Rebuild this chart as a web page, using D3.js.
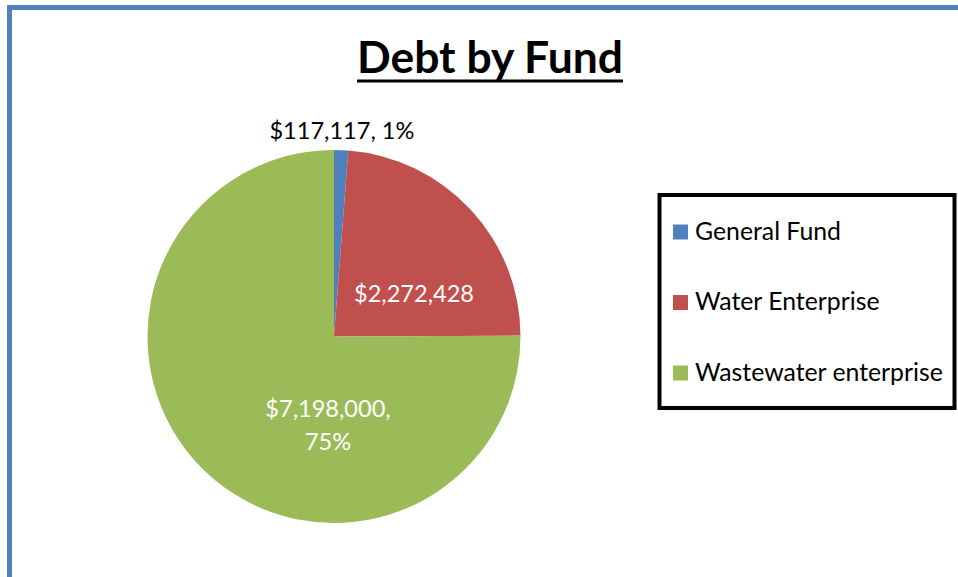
<!DOCTYPE html>
<html>
<head>
<meta charset="utf-8">
<script src="https://cdn.jsdelivr.net/npm/d3@7"></script>
<style>
  html, body { margin: 0; padding: 0; background: #fff; }
  svg { display: block; }
</style>
</head>
<body>
<svg id="chart" width="958" height="577"></svg>
<script>
// Debt by fund
const funds = ["General Fund", "Water Enterprise", "Wastewater enterprise"];
const debt = [117117, 2272428, 7198000];
const fundColors = ["#4F81BD", "#C0504D", "#9BBB59"];
const titleText = "Debt by Fund";

const FONT = "Lato, 'Open Sans', sans-serif";
const svg = d3.select("#chart");

// Measure a string at 100px and scale to the wanted width
function fitSize(str, weight, width) {
  const t = svg.append("text").attr("font-family", FONT).attr("font-weight", weight)
    .attr("font-size", 100).text(str);
  const w = t.node().getComputedTextLength();
  t.remove();
  return 100 * width / w;
}

// Outer frame (extends beyond the right and bottom edges)
svg.append("rect")
  .attr("x", 9.5).attr("y", 7.5).attr("width", 1200).attr("height", 1200)
  .attr("fill", "none").attr("stroke", "#4F81BD").attr("stroke-width", 5);

// Title, bold and underlined
const titleSize = fitSize(titleText, "bold", 266);
const title = svg.append("text")
  .attr("x", 490).attr("y", 73)
  .attr("text-anchor", "middle")
  .attr("font-family", FONT).attr("font-weight", "bold")
  .attr("font-size", titleSize).attr("fill", "#000")
  .text(titleText);
const tb = title.node().getBBox();
svg.append("line")
  .attr("x1", tb.x).attr("x2", tb.x + tb.width)
  .attr("y1", 81).attr("y2", 81)
  .attr("stroke", "#000").attr("stroke-width", 3);

// Pie
const cx = 334, cy = 336.5, radius = 186.5;
const total = d3.sum(debt);
const pie = d3.pie().sort(null).value(d => d)(debt);
const arc = d3.arc().innerRadius(0).outerRadius(radius);
const color = d3.scaleOrdinal().domain(funds).range(fundColors);

const g = svg.append("g").attr("transform", `translate(${cx},${cy})`);
g.selectAll("path.slice")
  .data(pie)
  .join("path")
  .attr("class", "slice")
  .attr("d", arc)
  .attr("fill", (d, i) => color(funds[i]));

// Data labels
const labelSize = fitSize("$117,117, 1%", "normal", 145);
const fmt = d3.format("$,");
const pct = v => Math.round(v / total * 100) + "%";

// General Fund: outside the rim, above the slice
const outerArc = d3.arc().innerRadius(radius + 19).outerRadius(radius + 19);
const p0 = outerArc.centroid(pie[0]);
g.append("text")
  .attr("x", p0[0]).attr("y", p0[1]).attr("dy", "0.35em")
  .attr("text-anchor", "middle")
  .attr("font-family", FONT).attr("font-size", labelSize).attr("fill", "#000")
  .text(`${fmt(debt[0])}, ${pct(debt[0])}`);

// Water Enterprise: inside the slice
g.append("text")
  .attr("x", 80).attr("y", -42.5).attr("dy", "0.35em")
  .attr("text-anchor", "middle")
  .attr("font-family", FONT).attr("font-size", labelSize).attr("fill", "#fff")
  .text(fmt(debt[1]));

// Wastewater enterprise: two lines inside the slice
const wl = g.append("text")
  .attr("text-anchor", "middle")
  .attr("font-family", FONT).attr("font-size", labelSize).attr("fill", "#fff");
wl.append("tspan").attr("x", -6).attr("y", 80.5).text(`${fmt(debt[2])},`);
wl.append("tspan").attr("x", -6).attr("y", 113.5).text(pct(debt[2]));

// Legend
const lx = 659.5, ly = 195, lw = 295, lh = 213;
svg.append("rect")
  .attr("x", lx).attr("y", ly).attr("width", lw).attr("height", lh)
  .attr("fill", "#fff").attr("stroke", "#000").attr("stroke-width", 4);

const legendSize = fitSize("Wastewater enterprise", "normal", 248);
const rowY = d3.scalePoint().domain(funds).range([239.5, 380.5]);
const item = svg.selectAll("g.legend-item")
  .data(funds)
  .join("g")
  .attr("class", "legend-item")
  .attr("transform", d => `translate(673,${rowY(d)})`);
item.append("rect")
  .attr("x", 0).attr("y", -15).attr("width", 15).attr("height", 15)
  .attr("fill", d => color(d));
item.append("text")
  .attr("x", 22).attr("y", 0)
  .attr("font-family", FONT).attr("font-size", legendSize).attr("fill", "#000")
  .text(d => d);
</script>
</body>
</html>
